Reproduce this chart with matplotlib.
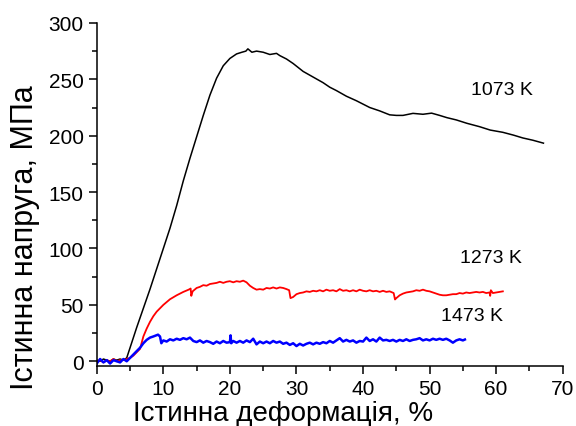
import matplotlib
matplotlib.use("Agg")
import matplotlib.pyplot as plt
from matplotlib.ticker import MultipleLocator

plt.rcParams['font.family'] = ['Liberation Sans', 'DejaVu Sans']

# 1073 K curve (strain %, stress MPa)
black_x = [0, 0.5, 1, 1.5, 2, 2.5, 3, 3.5, 4, 4.5, 5, 6, 7, 8, 9, 10, 11, 12, 13,
           14, 15, 16, 17, 18, 19, 20, 21, 21.8, 22.4, 22.7, 23.3, 24, 25, 26,
           27, 27.5, 28.5, 29.5, 31, 32.5, 34, 35, 36, 37.5, 39, 41, 42.5, 44, 45, 46,
           47.5, 49, 50.3, 51.5, 52.6, 54, 55.6, 57.5, 59.1, 61, 62.6, 64, 65.5, 67.1]
black_y = [1, 0, 2, 1, 0, 2, 1, 2, 1, 3, 12, 30, 47, 64, 82, 100, 118, 138, 160,
           180, 199, 218, 236, 251, 262, 268.5, 272.5, 274, 275, 277, 274, 275, 274,
           272, 273, 271, 268, 264, 257, 252, 247, 243, 240, 235, 231, 225, 222,
           218.5, 218, 218, 219.8, 219, 220, 218, 216, 214, 211, 208, 205, 203, 200.5,
           198, 196, 193.4]

# 1273 K curve
red_x = [0, 0.5, 1, 1.5, 2, 2.5, 3, 3.5, 4, 4.5, 5, 5.5, 6, 6.5, 7, 7.5, 8, 8.5, 9,
         10, 11, 12, 13, 13.8, 14.1, 14.2, 14.4, 15, 15.5, 16, 16.5, 17, 17.5, 18,
         18.5, 19, 19.5, 20, 20.5, 21, 21.5, 22, 22.5, 23, 23.5, 24, 24.5, 25, 25.5,
         26, 26.5, 27, 27.5, 28, 28.5, 28.9, 29.1, 29.5, 30, 30.5, 31, 31.5, 32, 32.5,
         33, 33.5, 34, 34.5, 35, 35.5, 36, 36.5, 37, 37.5, 38, 38.5, 39, 39.5, 40,
         40.5, 41, 41.5, 42, 42.5, 43, 43.5, 44, 44.6, 44.8, 45, 45.5, 46, 46.5, 47,
         47.5, 48, 48.5, 49, 49.5, 50, 50.5, 51, 51.5, 52, 52.5, 53, 53.5, 54, 54.5,
         55, 55.5, 56, 56.5, 57, 57.5, 58, 58.5, 59, 59.1, 59.2, 59.5, 60, 60.5, 61]
red_y = [0, 1, -1, 1, 0, 2, 0, 1, 1, 2, 3, 5, 8, 11, 22, 29, 35, 40, 44,
         50, 55, 58.5, 61.5, 63.5, 64.5, 58, 62, 65, 66, 67.5, 67, 68.5, 69, 69.5,
         70.5, 69.5, 70.5, 71, 70, 71, 70.5, 71.5, 70, 67, 65, 63.5, 64, 63.5, 65,
         64.5, 65.5, 64.5, 65.5, 65, 64, 63, 56, 57, 59.5, 60.5, 61, 62, 61.5, 62.5,
         62, 63, 62, 63.5, 62.5, 63, 62, 64, 62.5, 63, 62, 63, 62, 63.5, 62.5,
         62, 63, 62, 62.5, 61.5, 62.5, 61.5, 62, 60.5, 54.8, 56, 58.5, 60, 61, 61.5,
         62, 63, 62.5, 63.5, 62.5, 62, 61, 60, 59, 58.5, 58.5, 59, 59.5, 59.5, 60.5,
         60, 61, 60.5, 61, 61.5, 61, 61.5, 60.5, 61, 58, 63, 60.5, 61, 61.5, 62]

# 1473 K curve
blue_x = [0, 0.5, 1, 1.5, 2, 2.5, 3, 3.5, 4, 4.5, 5, 5.5, 6, 6.5, 7, 7.5, 8, 8.5,
          9.2, 9.5, 9.7, 10, 10.5, 11, 11.5, 12, 12.5, 13, 13.5, 14, 14.5, 15, 15.5,
          16, 16.5, 17, 17.5, 18, 18.5, 19, 19.5, 20, 20.1, 20.2, 20.5, 21, 21.5, 22,
          22.5, 23, 23.5, 24, 24.5, 25, 25.5, 26, 26.5, 27, 27.5, 28, 28.5, 29, 29.5,
          30, 30.5, 31, 31.5, 32, 32.5, 33, 33.5, 34, 34.5, 35, 35.5, 36, 36.5, 37,
          37.5, 38, 38.5, 39, 39.5, 40, 40.5, 41, 41.5, 42, 42.5, 43, 43.5, 44, 44.5,
          45, 45.5, 46, 46.5, 47, 47.5, 48, 48.5, 49, 49.5, 50, 50.5, 51, 51.5, 52,
          52.5, 53, 53.5, 54, 54.5, 55, 55.3]
blue_y = [-2, 2, -1, 1, -2, 1, 0, -1, 2, 0, 3, 6, 9, 12, 16, 19, 21, 22,
          23.6, 22, 16, 18.5, 17.5, 19.5, 18.5, 20, 19, 20.5, 19.5, 21, 18, 17, 18.5,
          16.5, 18, 17, 15.5, 17.5, 16, 18, 16.5, 17, 23, 16, 18, 16.5, 18, 16.5,
          18.5, 17, 20, 15, 17.5, 16, 17.5, 16, 18, 16.5, 17.5, 15.5, 16.5, 14.5, 16,
          13.5, 15.5, 14, 15.5, 16.5, 15, 16.5, 15.5, 17, 16, 18, 16.5, 18.5, 20.5, 17.5,
          19, 17.5, 18.5, 16.5, 18, 17.5, 21, 18, 19.5, 17.5, 21, 18.5, 19, 18, 19,
          17.5, 19, 18, 19.5, 18, 19, 19.5, 20.5, 18.5, 19.5, 18.5, 20, 19, 20, 19,
          20, 18.5, 16.5, 18.5, 19.5, 18.5, 19.3]

labels = ["1073 K", "1273 K", "1473 K"]
label_pos = [(56.2, 240.7), (54.5, 91.8), (51.7, 40.9)]

fig = plt.figure(figsize=(5.76, 4.27), dpi=100)
ax = fig.add_axes([0.168, 0.141, 0.809, 0.803])

ax.plot(black_x, black_y, color='black', lw=1.1)
ax.plot(red_x, red_y, color='red', lw=1.3)
ax.plot(blue_x, blue_y, color='blue', lw=1.8)

for txt, (x, y) in zip(labels, label_pos):
    ax.text(x, y, txt, fontsize=14, va='center', ha='left')

ax.set_xlim(0, 70)
ax.set_ylim(-4, 300)
ax.xaxis.set_major_locator(MultipleLocator(10))
ax.xaxis.set_minor_locator(MultipleLocator(5))
ax.yaxis.set_major_locator(MultipleLocator(50))
ax.yaxis.set_minor_locator(MultipleLocator(25))
ax.tick_params(which='major', direction='out', length=6, width=1.1, labelsize=15)
ax.tick_params(which='minor', direction='out', length=3.5, width=1.1)
for s in ['top', 'right']:
    ax.spines[s].set_visible(False)
for s in ['left', 'bottom']:
    ax.spines[s].set_linewidth(1.1)

ax.set_xlabel("Істинна деформація, %", fontsize=20, labelpad=2)
ax.xaxis.set_label_coords(0.40, -0.10)
ax.set_ylabel("Істинна напруга, МПа", fontsize=22, labelpad=4)
ax.yaxis.set_label_coords(-0.122, 0.376)

fig.savefig("out.png", dpi=100)
